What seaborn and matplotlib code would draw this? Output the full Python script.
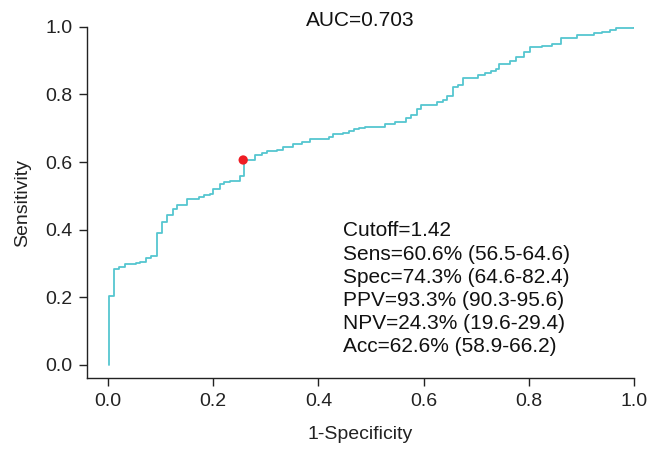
import matplotlib
matplotlib.use("Agg")
import matplotlib.pyplot as plt
import seaborn as sns
import pandas as pd

# ROC curve vertices (1-specificity, sensitivity)
fpr = [0.002, 0.002, 0.011, 0.021, 0.032, 0.053, 0.061, 0.072, 0.082, 0.093,
       0.103, 0.112, 0.123, 0.132, 0.150, 0.173, 0.183, 0.193, 0.200, 0.212,
       0.221, 0.231, 0.251, 0.259, 0.279, 0.292, 0.303, 0.321, 0.332, 0.352,
       0.369, 0.384, 0.420, 0.428, 0.447, 0.458, 0.468, 0.477, 0.489, 0.527,
       0.546, 0.567, 0.576, 0.587, 0.595, 0.625, 0.636, 0.645, 0.655, 0.665,
       0.674, 0.704, 0.717, 0.729, 0.738, 0.743, 0.764, 0.775, 0.791, 0.803,
       0.825, 0.844, 0.862, 0.891, 0.923, 0.940, 0.954, 0.965, 1.0]
tpr = [0.0, 0.203, 0.284, 0.289, 0.297, 0.300, 0.304, 0.315, 0.321, 0.390,
       0.422, 0.442, 0.460, 0.472, 0.490, 0.497, 0.502, 0.506, 0.520, 0.536,
       0.540, 0.544, 0.560, 0.605, 0.620, 0.627, 0.633, 0.637, 0.645, 0.653,
       0.660, 0.668, 0.675, 0.682, 0.687, 0.693, 0.697, 0.701, 0.705, 0.713,
       0.720, 0.731, 0.740, 0.758, 0.768, 0.777, 0.785, 0.796, 0.823, 0.827,
       0.849, 0.857, 0.864, 0.870, 0.875, 0.890, 0.899, 0.910, 0.927, 0.940,
       0.944, 0.950, 0.967, 0.975, 0.981, 0.986, 0.991, 0.997, 1.0]

cutoff_x = [0.257]
cutoff_y = [0.606]

auc_text = "AUC=0.703"
stats_lines = ["Cutoff=1.42",
               "Sens=60.6% (56.5-64.6)",
               "Spec=74.3% (64.6-82.4)",
               "PPV=93.3% (90.3-95.6)",
               "NPV=24.3% (19.6-29.4)",
               "Acc=62.6% (58.9-66.2)"]
ticks = [0.0, 0.2, 0.4, 0.6, 0.8, 1.0]
tick_labels = ["0.0", "0.2", "0.4", "0.6", "0.8", "1.0"]

sns.set_theme(style="ticks")
plt.rcParams["font.family"] = ["Liberation Sans", "DejaVu Sans"]

fig = plt.figure(figsize=(6.52, 4.49), dpi=100)
ax = fig.add_axes([0.1334, 0.158, 0.9724 - 0.1334, 0.9399 - 0.158])

df = pd.DataFrame({"fpr": fpr, "tpr": tpr})
sns.lineplot(data=df, x="fpr", y="tpr", ax=ax, estimator=None, sort=False,
             drawstyle="steps-post", color="#55C6D0", linewidth=1.3)
sns.scatterplot(x=cutoff_x, y=cutoff_y, ax=ax, color="#EE1D25", s=45,
                edgecolor="none", zorder=5)

ax.set_xlim(-0.04, 1.0)
ax.set_ylim(-0.04, 1.0)
ax.set_xticks(ticks)
ax.set_xticklabels(tick_labels)
ax.set_yticks(ticks)
ax.set_yticklabels(tick_labels)
ax.tick_params(axis="both", labelsize=14, length=5.5, width=1, pad=5,
               colors="#222222", labelcolor="#222222")
for s in ["top", "right"]:
    ax.spines[s].set_visible(False)
for s in ["left", "bottom"]:
    ax.spines[s].set_color("#222222")
    ax.spines[s].set_linewidth(1)

ax.set_xlabel("1-Specificity", fontsize=14, color="#222222", labelpad=12)
ax.set_ylabel("Sensitivity", fontsize=14, color="#222222", labelpad=10)

ax.text(0.48, 1.02, auc_text, fontsize=15, ha="center", va="center",
        color="#111111", clip_on=False)
ax.text(0.447, 0.424, "\n".join(stats_lines), fontsize=15, ha="left",
        va="top", linespacing=1.275, color="#111111")

fig.savefig("out.png", dpi=100)
